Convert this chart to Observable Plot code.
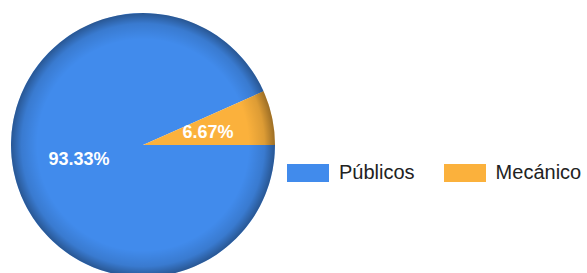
<!DOCTYPE html>
<html><head><meta charset="utf-8">
<script src="https://cdn.jsdelivr.net/npm/d3@7"></script>
<script src="https://cdn.jsdelivr.net/npm/@observablehq/plot@0.6"></script>
<style>
body{margin:0;background:#fff;font-family:"Liberation Sans",Arial,sans-serif;}
#wrap{position:relative;width:587px;height:273px;overflow:hidden;}
#legend{position:absolute;left:287px;top:161px;display:flex;align-items:center;font-size:20px;color:#222;}
.item{display:flex;align-items:center;margin-right:29px;}
.sw{width:42px;height:18px;margin-right:10px;}
</style></head>
<body><div id="wrap"><div id="chart"></div><div id="legend"></div></div>
<script>
const categories = ["Públicos", "Mecánico"];
const values = [93.33, 6.67];
const labels = ["93.33%", "6.67%"];
const colors = ["#418BEC", "#FBB13C"];

// Pie angles (math convention: counterclockwise from east); Mecánico starts at east going CCW
const total = d3.sum(values);
const mecAngle = values[1] / total * 2 * Math.PI;
const slices = [
  {cat: categories[0], label: labels[0], color: colors[0], a0: mecAngle, a1: 2 * Math.PI},
  {cat: categories[1], label: labels[1], color: colors[1], a0: 0, a1: mecAngle}
];
slices.forEach(s => { const m = (s.a0 + s.a1) / 2; s.cx = 0.5 * Math.cos(m); s.cy = 0.5 * Math.sin(m); });

function pieMark(index, scales, values, dims, context) {
  const x = scales.x, y = scales.y;
  const cx = x(0), cy = y(0), r = x(1) - x(0);
  const svgNS = "http://www.w3.org/2000/svg";
  const g = document.createElementNS(svgNS, "g");
  const defs = document.createElementNS(svgNS, "defs");
  defs.innerHTML = `<radialGradient id="edgeShade" cx="${cx}" cy="${cy}" r="${r}" gradientUnits="userSpaceOnUse">
    <stop offset="0" stop-color="#000" stop-opacity="0"/>
    <stop offset="0.8" stop-color="#000" stop-opacity="0"/>
    <stop offset="0.92" stop-color="#000" stop-opacity="0.12"/>
    <stop offset="1" stop-color="#000" stop-opacity="0.38"/>
  </radialGradient>`;
  g.appendChild(defs);
  const arc = d3.arc().innerRadius(0).outerRadius(r);
  for (const s of slices) {
    const p = document.createElementNS(svgNS, "path");
    p.setAttribute("d", arc({startAngle: Math.PI / 2 - s.a1, endAngle: Math.PI / 2 - s.a0}));
    p.setAttribute("transform", `translate(${cx},${cy})`);
    p.setAttribute("fill", s.color);
    g.appendChild(p);
  }
  const c = document.createElementNS(svgNS, "circle");
  c.setAttribute("cx", cx); c.setAttribute("cy", cy); c.setAttribute("r", r);
  c.setAttribute("fill", "url(#edgeShade)");
  g.appendChild(c);
  return g;
}

const chart = Plot.plot({
  width: 587, height: 273,
  margin: 0,
  x: {domain: [-1, 1], range: [11, 275], axis: null},
  y: {domain: [-1, 1], range: [277, 13], axis: null},
  marks: [
    pieMark,
    Plot.text(slices, {x: "cx", y: "cy", text: "label", fill: "white", fontSize: 18, fontWeight: "bold",
      fontFamily: "Liberation Sans, Arial, sans-serif"})
  ]
});
document.getElementById("chart").appendChild(chart);

const leg = document.getElementById("legend");
categories.forEach((c, i) => {
  const it = document.createElement("div"); it.className = "item";
  const sw = document.createElement("div"); sw.className = "sw"; sw.style.background = colors[i];
  const t = document.createElement("span"); t.textContent = c;
  it.appendChild(sw); it.appendChild(t); leg.appendChild(it);
});
</script></body></html>
